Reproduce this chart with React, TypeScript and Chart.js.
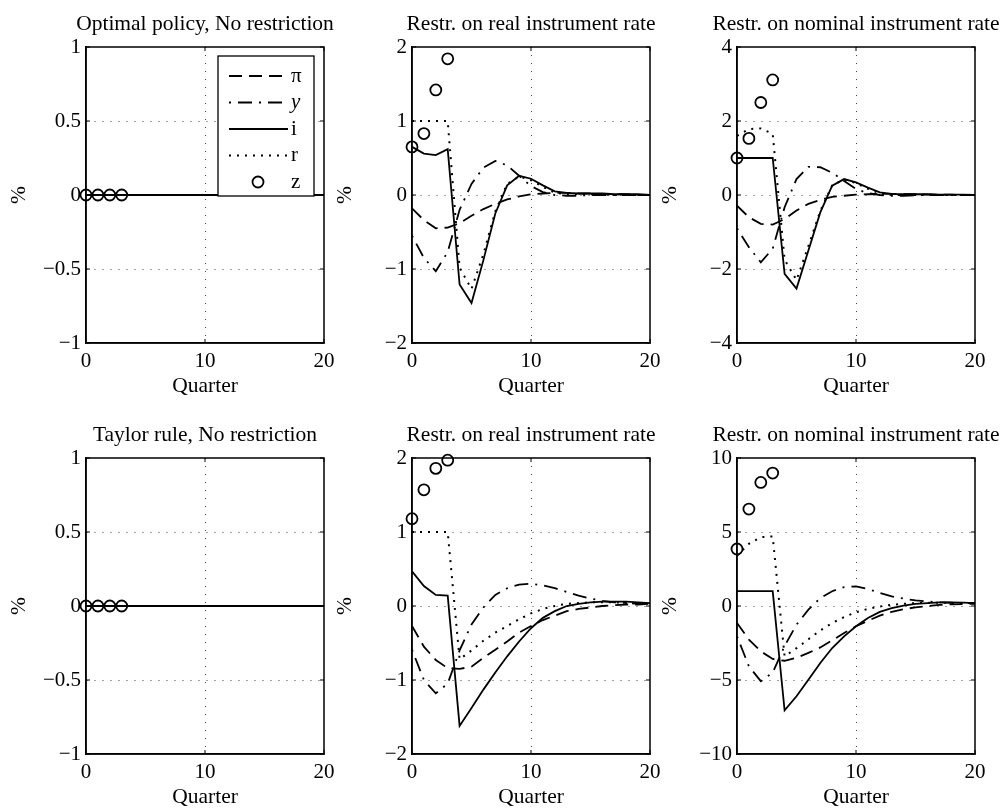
import React, { useEffect, useRef } from "react";
import { Chart, registerables } from "chart.js";

Chart.register(...registerables);

// ---------------- DATA ----------------
const quarters = [0, 1, 2, 3, 4, 5, 6, 7, 8, 9, 10, 11, 12, 13, 14, 15, 16, 17, 18, 19, 20];
const zQuarters = [0, 1, 2, 3];
const seriesLabels = ["π", "y", "i", "r", "z"];

const titleOptNone = "Optimal policy, No restriction";
const titleOptReal = "Restr. on real instrument rate";
const titleOptNominal = "Restr. on nominal instrument rate";
const titleTaylorNone = "Taylor rule, No restriction";
const titleTaylorReal = "Restr. on real instrument rate";
const titleTaylorNominal = "Restr. on nominal instrument rate";

// Optimal policy, no restriction
const optNonePi = [0, 0, 0, 0, 0, 0, 0, 0, 0, 0, 0, 0, 0, 0, 0, 0, 0, 0, 0, 0, 0];
const optNoneY = [0, 0, 0, 0, 0, 0, 0, 0, 0, 0, 0, 0, 0, 0, 0, 0, 0, 0, 0, 0, 0];
const optNoneI = [0, 0, 0, 0, 0, 0, 0, 0, 0, 0, 0, 0, 0, 0, 0, 0, 0, 0, 0, 0, 0];
const optNoneR = [0, 0, 0, 0, 0, 0, 0, 0, 0, 0, 0, 0, 0, 0, 0, 0, 0, 0, 0, 0, 0];
const optNoneZ = [0, 0, 0, 0];

// Optimal policy, restriction on real rate
const optRealPi = [-0.18, -0.34, -0.45, -0.44, -0.38, -0.28, -0.19, -0.12, -0.06, -0.02, 0.01, 0.02, 0.03, 0.03, 0.02, 0.02, 0.01, 0.01, 0.01, 0, 0];
const optRealY = [-0.55, -0.85, -1.03, -0.77, -0.2, 0.15, 0.37, 0.46, 0.4, 0.26, 0.12, 0.04, 0, -0.01, -0.01, 0, 0, 0, 0, 0, 0];
const optRealI = [0.65, 0.56, 0.54, 0.62, -1.21, -1.46, -0.88, -0.25, 0.13, 0.26, 0.22, 0.13, 0.05, 0.03, 0.02, 0.02, 0.02, 0.01, 0.01, 0.01, 0];
const optRealR = [1, 1, 1, 1, -0.98, -1.27, -0.8, -0.22, 0.15, 0.25, 0.2, 0.11, 0.03, 0.01, 0.01, 0.01, 0.01, 0, 0, 0, 0];
const optRealZ = [0.65, 0.83, 1.42, 1.84];

// Optimal policy, restriction on nominal rate
const optNomPi = [-0.29, -0.6, -0.78, -0.8, -0.65, -0.42, -0.24, -0.13, -0.05, -0.02, 0.01, 0.02, 0.03, 0.03, 0.02, 0.02, 0.01, 0.01, 0.01, 0, 0];
const optNomY = [-0.9, -1.41, -1.82, -1.45, -0.33, 0.43, 0.76, 0.75, 0.6, 0.38, 0.16, 0.05, 0, -0.02, -0.02, -0.01, 0, 0, 0, 0, 0];
const optNomI = [1, 1, 1, 1, -2.13, -2.53, -1.5, -0.47, 0.25, 0.43, 0.34, 0.2, 0.07, 0.03, 0.02, 0.02, 0.02, 0.01, 0.01, 0.01, 0];
const optNomR = [1.6, 1.78, 1.8, 1.65, -1.75, -2.3, -1.38, -0.43, 0.26, 0.42, 0.32, 0.17, 0.04, 0, 0, 0, 0.01, 0, 0, 0, 0];
const optNomZ = [1.0, 1.53, 2.5, 3.11];

// Taylor rule, no restriction
const taylorNonePi = [0, 0, 0, 0, 0, 0, 0, 0, 0, 0, 0, 0, 0, 0, 0, 0, 0, 0, 0, 0, 0];
const taylorNoneY = [0, 0, 0, 0, 0, 0, 0, 0, 0, 0, 0, 0, 0, 0, 0, 0, 0, 0, 0, 0, 0];
const taylorNoneI = [0, 0, 0, 0, 0, 0, 0, 0, 0, 0, 0, 0, 0, 0, 0, 0, 0, 0, 0, 0, 0];
const taylorNoneR = [0, 0, 0, 0, 0, 0, 0, 0, 0, 0, 0, 0, 0, 0, 0, 0, 0, 0, 0, 0, 0];
const taylorNoneZ = [0, 0, 0, 0];

// Taylor rule, restriction on real rate
const taylorRealPi = [-0.27, -0.55, -0.73, -0.84, -0.85, -0.82, -0.7, -0.59, -0.48, -0.36, -0.27, -0.19, -0.13, -0.07, -0.04, -0.02, 0, 0.01, 0.02, 0.02, 0.03];
const taylorRealY = [-0.59, -1.0, -1.18, -1.05, -0.6, -0.25, -0.02, 0.15, 0.24, 0.29, 0.3, 0.28, 0.24, 0.19, 0.14, 0.1, 0.07, 0.05, 0.04, 0.03, 0.03];
const taylorRealI = [0.47, 0.27, 0.15, 0.14, -1.62, -1.38, -1.13, -0.9, -0.68, -0.48, -0.3, -0.16, -0.07, 0, 0.03, 0.05, 0.06, 0.06, 0.06, 0.05, 0.04];
const taylorRealR = [1, 1, 1, 1, -0.72, -0.6, -0.47, -0.36, -0.27, -0.18, -0.1, -0.04, 0, 0.03, 0.04, 0.05, 0.05, 0.05, 0.04, 0.04, 0.04];
const taylorRealZ = [1.18, 1.57, 1.86, 1.97];

// Taylor rule, restriction on nominal rate
const taylorNomPi = [-1.15, -2.27, -3.06, -3.58, -3.7, -3.5, -3.17, -2.8, -2.32, -1.82, -1.37, -1.0, -0.65, -0.4, -0.22, -0.09, 0, 0.07, 0.11, 0.13, 0.15];
const taylorNomY = [-2.05, -4.07, -5.08, -4.5, -2.7, -1.26, -0.25, 0.54, 1.0, 1.28, 1.33, 1.15, 0.88, 0.65, 0.5, 0.38, 0.3, 0.25, 0.22, 0.2, 0.2];
const taylorNomI = [1, 1, 1, 1, -7.05, -6.1, -4.98, -3.85, -2.84, -2.05, -1.37, -0.81, -0.4, -0.14, 0.02, 0.14, 0.2, 0.25, 0.25, 0.23, 0.2];
const taylorNomR = [3.4, 4.2, 4.65, 4.7, -3.4, -2.85, -2.25, -1.65, -1.15, -0.75, -0.42, -0.2, -0.03, 0.08, 0.15, 0.19, 0.21, 0.22, 0.21, 0.2, 0.2];
const taylorNomZ = [3.85, 6.55, 8.35, 8.98];

// y-axis ranges (min, max, step)
const yRangeOptNone = [-1, 1, 0.5];
const yRangeOptReal = [-2, 2, 1];
const yRangeOptNom = [-4, 4, 2];
const yRangeTaylorNone = [-1, 1, 0.5];
const yRangeTaylorReal = [-2, 2, 1];
const yRangeTaylorNom = [-10, 10, 5];

// ---------------- LAYOUT / STYLE ----------------
const FONT = "'Liberation Serif', 'Times New Roman', serif";
const PLOT_W = 238;
const PLOT_H = 296;
const Y_AXIS_W = 80;
const TITLE_H = 40;
const X_AXIS_H = 58;
const CANVAS_W = Y_AXIS_W + PLOT_W + Y_AXIS_W;
const CANVAS_H = TITLE_H + PLOT_H + X_AXIS_H;
const COL_LEFT = [86, 412, 737];
const ROW_TOP = [47, 458];

const lineStyles = [
  { dash: [13, 7], width: 1.8 },
  { dash: [2, 7, 14, 7], width: 1.8 },
  { dash: [], width: 1.8 },
  { dash: [2, 6], width: 2 },
];

type PanelCfg = {
  title: string;
  yRange: number[];
  series: number[][];
  z: number[];
  col: number;
  row: number;
  legend: boolean;
};

const panels: PanelCfg[] = [
  { title: titleOptNone, yRange: yRangeOptNone, series: [optNonePi, optNoneY, optNoneI, optNoneR], z: optNoneZ, col: 0, row: 0, legend: true },
  { title: titleOptReal, yRange: yRangeOptReal, series: [optRealPi, optRealY, optRealI, optRealR], z: optRealZ, col: 1, row: 0, legend: false },
  { title: titleOptNominal, yRange: yRangeOptNom, series: [optNomPi, optNomY, optNomI, optNomR], z: optNomZ, col: 2, row: 0, legend: false },
  { title: titleTaylorNone, yRange: yRangeTaylorNone, series: [taylorNonePi, taylorNoneY, taylorNoneI, taylorNoneR], z: taylorNoneZ, col: 0, row: 1, legend: false },
  { title: titleTaylorReal, yRange: yRangeTaylorReal, series: [taylorRealPi, taylorRealY, taylorRealI, taylorRealR], z: taylorRealZ, col: 1, row: 1, legend: false },
  { title: titleTaylorNominal, yRange: yRangeTaylorNom, series: [taylorNomPi, taylorNomY, taylorNomI, taylorNomR], z: taylorNomZ, col: 2, row: 1, legend: false },
];

const fmtTick = (v: number) => String(v).replace("-", "\u2212");

const boxPlugin = {
  id: "matlabBox",
  afterDraw(chart: any) {
    const { ctx, chartArea: ca, scales } = chart;
    const x = scales.x;
    const y = scales.y;
    ctx.save();
    ctx.strokeStyle = "#000";
    ctx.lineWidth = 1;
    ctx.beginPath();
    x.ticks.forEach((t: any) => {
      const px = x.getPixelForValue(t.value);
      ctx.moveTo(px, ca.bottom);
      ctx.lineTo(px, ca.bottom - 4);
      ctx.moveTo(px, ca.top);
      ctx.lineTo(px, ca.top + 4);
    });
    y.ticks.forEach((t: any) => {
      const py = y.getPixelForValue(t.value);
      ctx.moveTo(ca.left, py);
      ctx.lineTo(ca.left + 4, py);
      ctx.moveTo(ca.right, py);
      ctx.lineTo(ca.right - 4, py);
    });
    ctx.stroke();
    ctx.lineWidth = 1.5;
    ctx.strokeRect(ca.left, ca.top, ca.right - ca.left, ca.bottom - ca.top);
    ctx.restore();
  },
};

const legendPlugin = {
  id: "matlabLegend",
  afterDraw(chart: any, _args: any, opts: any) {
    if (!opts || !opts.show) return;
    const { ctx, chartArea: ca } = chart;
    const boxW = 96;
    const boxH = 140;
    const bl = ca.right - 10 - boxW;
    const bt = ca.top + 9;
    ctx.save();
    ctx.fillStyle = "#fff";
    ctx.fillRect(bl, bt, boxW, boxH);
    ctx.strokeStyle = "#000";
    ctx.lineWidth = 1.3;
    ctx.strokeRect(bl, bt, boxW, boxH);
    const ds = chart.data.datasets;
    for (let k = 0; k < ds.length; k++) {
      const cy = bt + 20 + k * 26.5;
      const d = ds[k];
      ctx.strokeStyle = "#000";
      if (k < 4) {
        ctx.lineWidth = d.borderWidth;
        ctx.setLineDash(d.borderDash || []);
        ctx.beginPath();
        ctx.moveTo(bl + 11, cy);
        ctx.lineTo(bl + 70, cy);
        ctx.stroke();
        ctx.setLineDash([]);
      } else {
        ctx.lineWidth = d.pointBorderWidth;
        ctx.beginPath();
        ctx.arc(bl + 40, cy, d.pointRadius, 0, Math.PI * 2);
        ctx.stroke();
      }
      ctx.fillStyle = "#000";
      ctx.textBaseline = "middle";
      ctx.textAlign = "left";
      ctx.font = (d.label === "y" ? "italic " : "") + "21px " + FONT;
      ctx.fillText(d.label, bl + 73, cy);
    }
    ctx.restore();
  },
};

function buildConfig(p: PanelCfg): any {
  const [yMin, yMax, yStep] = p.yRange;
  const tickFont = { family: FONT, size: 21, weight: "normal" as const };
  const titleFont = { family: FONT, size: 21.5, weight: "normal" as const };
  const datasets: any[] = p.series.map((vals, k) => ({
    label: seriesLabels[k],
    data: quarters.map((q, j) => ({ x: q, y: vals[j] })),
    borderColor: "#000",
    backgroundColor: "#000",
    borderWidth: lineStyles[k].width,
    borderDash: lineStyles[k].dash,
    borderCapStyle: "butt",
    pointRadius: 0,
    tension: 0,
    fill: false,
  }));
  datasets.push({
    label: seriesLabels[4],
    data: zQuarters.map((q, j) => ({ x: q, y: p.z[j] })),
    showLine: false,
    pointRadius: 5.5,
    pointBorderWidth: 1.8,
    pointBorderColor: "#000",
    pointBackgroundColor: "rgba(0,0,0,0)",
    borderColor: "#000",
    clip: false,
  });
  const gridColor = (lo: number, hi: number) => (c: any) =>
    c.tick && (Math.abs(c.tick.value - lo) < 1e-9 || Math.abs(c.tick.value - hi) < 1e-9) ? "rgba(0,0,0,0)" : "#444";
  return {
    type: "line",
    data: { datasets },
    options: {
      animation: false,
      responsive: false,
      maintainAspectRatio: false,
      devicePixelRatio: 1,
      layout: { padding: 0 },
      events: [],
      plugins: {
        legend: { display: false },
        tooltip: { enabled: false },
        title: {
          display: true,
          text: p.title,
          color: "#000",
          font: titleFont,
          padding: { top: 4.2, bottom: 10 },
        },
        matlabLegend: { show: p.legend },
      },
      scales: {
        x: {
          type: "linear",
          min: 0,
          max: 20,
          ticks: { stepSize: 10, color: "#000", font: tickFont, padding: 6, maxRotation: 0, callback: (v: number) => fmtTick(v) },
          grid: { color: gridColor(0, 20), lineWidth: 1, drawTicks: false },
          border: { display: true, color: "#000", width: 1.5, dash: [1, 7] },
          title: { display: true, text: "Quarter", color: "#000", font: titleFont, padding: { top: 0, bottom: 2 } },
          afterFit: (s: any) => {
            s.height = X_AXIS_H;
          },
        },
        y: {
          type: "linear",
          position: "left",
          min: yMin,
          max: yMax,
          ticks: { stepSize: yStep, color: "#000", font: tickFont, padding: 5, callback: (v: number) => fmtTick(v) },
          grid: { color: gridColor(yMin, yMax), lineWidth: 1, drawTicks: false },
          border: { display: true, color: "#000", width: 1.5, dash: [1, 7] },
          title: { display: true, text: "%", color: "#000", font: titleFont, padding: { top: 0, bottom: 0 } },
          afterFit: (s: any) => {
            s.width = Y_AXIS_W;
          },
        },
        yR: {
          type: "linear",
          position: "right",
          min: 0,
          max: 1,
          ticks: { display: false },
          grid: { display: false },
          border: { display: false },
          afterFit: (s: any) => {
            s.width = Y_AXIS_W;
          },
        },
      },
    },
    plugins: [boxPlugin, legendPlugin],
  };
}

function Panel({ cfg }: { cfg: PanelCfg }) {
  const ref = useRef<HTMLCanvasElement | null>(null);
  useEffect(() => {
    if (!ref.current) return;
    const chart = new Chart(ref.current, buildConfig(cfg));
    return () => chart.destroy();
  }, [cfg]);
  const left = COL_LEFT[cfg.col] - Y_AXIS_W;
  const top = ROW_TOP[cfg.row] - TITLE_H;
  return (
    <canvas
      ref={ref}
      width={CANVAS_W}
      height={CANVAS_H}
      style={{ position: "absolute", left, top, width: CANVAS_W, height: CANVAS_H, display: "block" }}
    />
  );
}

export default function App() {
  return (
    <div
      style={{
        position: "absolute",
        left: 0,
        top: 0,
        width: 1005,
        height: 809,
        overflow: "hidden",
        background: "#fff",
      }}
    >
      {panels.map((p, i) => (
        <Panel key={i} cfg={p} />
      ))}
    </div>
  );
}
